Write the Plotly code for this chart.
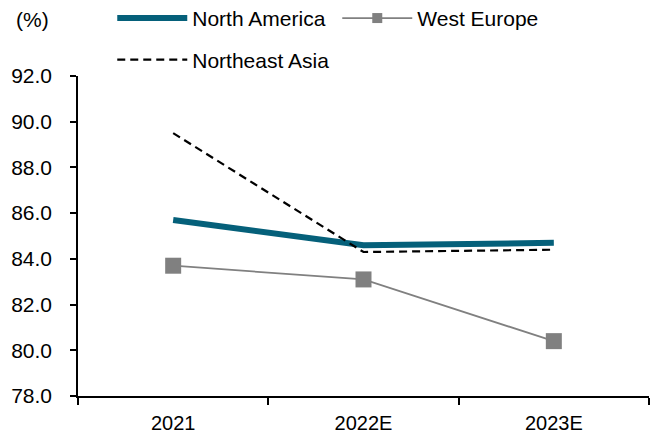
import plotly.graph_objects as go

categories = ["2021", "2022E", "2023E"]
north_america = [85.7, 84.6, 84.7]
west_europe = [83.7, 83.1, 80.4]
northeast_asia = [89.5, 84.3, 84.4]
y_ticks = [78, 80, 82, 84, 86, 88, 90, 92]

FONT = "Liberation Sans, Arial, sans-serif"
WE_COLOR = "#808080"

fig = go.Figure()
fig.add_trace(go.Scatter(
    x=categories, y=north_america, name="North America", mode="lines",
    line=dict(color="#05607A", width=6), legend="legend"))
fig.add_trace(go.Scatter(
    x=categories, y=west_europe, name="West Europe", mode="lines+markers",
    line=dict(color=WE_COLOR, width=1.8), showlegend=False,
    marker=dict(symbol="square", size=16, color=WE_COLOR)))
# legend-only entry with the smaller legend marker
fig.add_trace(go.Scatter(
    x=[None], y=[None], name="West Europe", mode="lines+markers",
    line=dict(color=WE_COLOR, width=1.8),
    marker=dict(symbol="square", size=10, color=WE_COLOR), legend="legend"))
fig.add_trace(go.Scatter(
    x=categories, y=northeast_asia, name="Northeast Asia", mode="lines",
    line=dict(color="#000000", width=2.2, dash="8px,5px"), legend="legend2"))

fig.update_layout(
    width=662, height=434,
    margin=dict(l=78, r=13, t=76, b=38, autoexpand=False),
    paper_bgcolor="white", plot_bgcolor="white",
    font=dict(family=FONT, size=20, color="#000000"),
    showlegend=True,
    legend=dict(orientation="h", x=0.06, xanchor="left", y=1.18, yanchor="middle",
                font=dict(size=21), itemwidth=70, bgcolor="rgba(0,0,0,0)",
                entrywidth=140, tracegroupgap=0),
    legend2=dict(orientation="h", x=0.06, xanchor="left", y=1.05, yanchor="middle",
                 font=dict(size=21), itemwidth=70, bgcolor="rgba(0,0,0,0)"),
    xaxis=dict(type="category", categoryorder="array", categoryarray=categories,
               range=[-0.5, 2.5], showline=True, linecolor="#000000",
               linewidth=1.5, ticks="outside", ticklen=7, tickcolor="#000000",
               tickwidth=1.5, tickson="boundaries", showgrid=False, zeroline=False,
               tickfont=dict(size=20), ticklabelstandoff=8),
    yaxis=dict(range=[78, 92], tickvals=y_ticks, tickformat=".1f", showline=True,
               linecolor="#000000", linewidth=1.5, ticks="outside", ticklen=6,
               tickcolor="#000000", tickwidth=1.5, showgrid=False, zeroline=False,
               tickfont=dict(size=21), ticklabelstandoff=14),
    annotations=[dict(text="(%)", xref="paper", yref="paper", x=-0.112, y=1.175,
                      xanchor="left", yanchor="middle", showarrow=False,
                      font=dict(size=21))],
)

fig.write_html("out.html")
